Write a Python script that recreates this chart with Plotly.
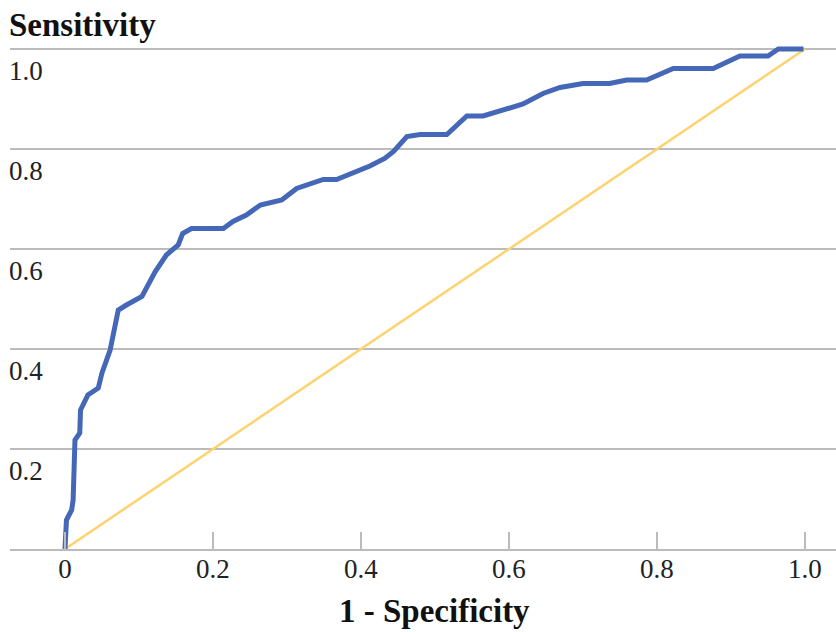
import plotly.graph_objects as go

fpr = [0.0, 0.001, 0.002, 0.009, 0.011, 0.0135, 0.02, 0.021, 0.031, 0.045, 0.05, 0.061, 0.072,
       0.083, 0.104, 0.122, 0.137, 0.153, 0.159, 0.171, 0.214, 0.227, 0.245, 0.264, 0.277,
       0.293, 0.313, 0.331, 0.349, 0.367, 0.39, 0.412, 0.432, 0.444, 0.462, 0.48, 0.516,
       0.543, 0.565, 0.592, 0.619, 0.646, 0.669, 0.70, 0.736, 0.759, 0.786, 0.822, 0.876,
       0.912, 0.95, 0.964, 0.998]
tpr = [0.0, 0.038, 0.058, 0.078, 0.098, 0.218, 0.232, 0.278, 0.308, 0.322, 0.352, 0.398, 0.478,
       0.488, 0.505, 0.555, 0.588, 0.608, 0.631, 0.641, 0.641, 0.655, 0.668, 0.688, 0.693,
       0.698, 0.721, 0.731, 0.739, 0.739, 0.753, 0.766, 0.781, 0.795, 0.825, 0.829, 0.829,
       0.866, 0.866, 0.877, 0.89, 0.911, 0.923, 0.931, 0.931, 0.938, 0.938, 0.961, 0.961,
       0.986, 0.986, 1.0, 1.0]
ref_x = [0, 1]
ref_y = [0, 1]

tick_vals = [0, 0.2, 0.4, 0.6, 0.8, 1.0]
x_tick_text = ["0", "0.2", "0.4", "0.6", "0.8", "1.0"]
y_tick_vals = [0.2, 0.4, 0.6, 0.8, 1.0]
y_tick_text = ["0.2", "0.4", "0.6", "0.8", "1.0"]

FONT = "Liberation Serif, Times New Roman, serif"

fig = go.Figure()
fig.add_trace(go.Scatter(x=ref_x, y=ref_y, mode="lines",
                         line=dict(color="#FFD270", width=2.5), hoverinfo="skip"))
fig.add_trace(go.Scatter(x=fpr, y=tpr, mode="lines",
                         line=dict(color="#4567B7", width=5)))

fig.update_layout(
    width=836, height=632,
    margin=dict(l=10, r=0, t=40, b=83),
    paper_bgcolor="white", plot_bgcolor="white",
    showlegend=False,
    font=dict(family=FONT, color="#222222"),
    xaxis=dict(range=[-0.0743, 1.0419], tickvals=tick_vals, ticktext=x_tick_text,
               ticks="inside", ticklen=17, tickwidth=1.5, tickcolor="#BBBBBB",
               ticklabelstandoff=-5,
               showgrid=False, zeroline=False, showline=True, linecolor="#BBBBBB",
               linewidth=2, tickfont=dict(size=27, family=FONT, color="#222222")),
    yaxis=dict(range=[0, 1.018], tickvals=y_tick_vals, ticktext=y_tick_text,
               ticks="", showgrid=True, gridcolor="#BBBBBB", gridwidth=2,
               zeroline=False, showline=False,
               ticklabelposition="inside bottom",
               ticklabelstandoff=-4, ticklabelshift=3,
               tickfont=dict(size=27, family=FONT, color="#222222")),
    annotations=[
        dict(text="<b>Sensitivity</b>", xref="paper", yref="paper", x=0, y=1.0,
             xanchor="left", yanchor="bottom", xshift=-3, yshift=-5, showarrow=False,
             font=dict(size=33, family=FONT, color="#111111")),
        dict(text="<b>1 - Specificity</b>", xref="x", yref="paper", x=0.5, y=0,
             xanchor="center", yanchor="top", yshift=-42, showarrow=False,
             font=dict(size=33, family=FONT, color="#111111")),
    ],
)

fig.write_html(
    "out.html",
    config={"displayModeBar": False},
    post_script="document.body.style.margin='0';document.body.style.overflow='hidden';",
)
